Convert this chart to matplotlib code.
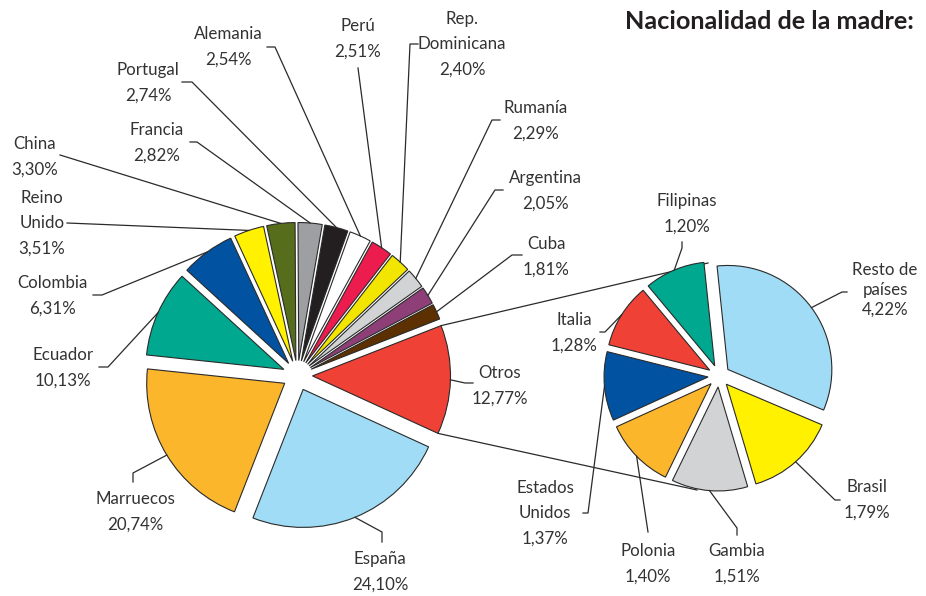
"""
Pie-of-pie: nacionalidad de la madre.
Main pie with 'Otros' broken down into a second, smaller pie.
"""
import numpy as np
import matplotlib
matplotlib.use("Agg")
import matplotlib.pyplot as plt

W, H = 926, 596

# --- data -----------------------------------------------------------------
left_names = ["Otros", "Cuba", "Argentina", "Rumanía", "Rep.\nDominicana",
              "Perú", "Alemania", "Portugal", "Francia", "China",
              "Reino\nUnido", "Colombia", "Ecuador", "Marruecos", "España"]
left_vals = [12.77, 1.81, 2.05, 2.29, 2.40, 2.51, 2.54, 2.74, 2.82, 3.30,
             3.51, 6.31, 10.13, 20.74, 24.10]
left_colors = ["#ef4136", "#5c3000", "#8e3f78", "#d1d3d4", "#f2e600",
               "#ed1c4f", "#ffffff", "#231f20", "#9d9fa2", "#566e1b",
               "#fff100", "#0152a1", "#00a88f", "#fbb62b", "#a0dcf6"]

right_names = ["Resto de\npaíses", "Filipinas", "Italia", "Estados\nUnidos",
               "Polonia", "Gambia", "Brasil"]
right_vals = [4.22, 1.20, 1.28, 1.37, 1.40, 1.51, 1.79]
right_colors = ["#a0dcf6", "#00a88f", "#ef4136", "#0152a1", "#fbb62b",
                "#d1d3d4", "#fff100"]

# --- layout (pixel coords, y downward) ------------------------------------
# text centre, then leader points from the label towards the wedge
left_text = [(500, 386), (546, 257), (545, 191), (536, 121), (462, 44),
             (358, 39), (228, 47), (148, 83), (157, 143), (35, 157),
             (42, 223), (52, 296), (63, 368), (135, 512), (380, 572)]
left_knees = [[(473, 383), (465, 383)], [(522, 255), (512, 255)],
              [(503, 190), (495, 190)], [(500, 120), (492, 120)],
              [(418, 44), (410, 44)], [(358, 68)],
              [(267, 47), (275, 47)], [(182, 82), (192, 82)],
              [(190, 142), (197, 142)], [(60, 155)], [(67, 223)],
              [(93, 295), (102, 295)], [(99, 367), (108, 367)],
              [(133, 482), (133, 473)], [(382, 542), (382, 532)]]
right_text = [(885, 290), (687, 214), (574, 333), (545, 513), (648, 564),
              (737, 564), (867, 500)]
right_knees = [[(847, 292), (842, 292)], [(682, 242), (682, 248)],
               [(600, 332), (605, 332)], [(583, 513), (588, 513)],
               [(648, 532)], [(737, 535), (737, 528)],
               [(840, 500), (835, 500)]]

TXT = "#333333"
FONT = "Lato"


def py(y):
    return H - y


def pct(v):
    return f"{v:.2f}%".replace(".", ",")


def draw_pie(ax, vals, colors, start, center, radius, expl):
    wedges, _ = ax.pie(vals, colors=colors, startangle=start,
                       counterclock=True, radius=radius,
                       center=(center[0], py(center[1])),
                       explode=[expl] * len(vals), frame=True,
                       wedgeprops=dict(edgecolor="#2a2a2a", linewidth=0.8))
    return wedges


def arc_point(w, frac=1.0):
    t = np.deg2rad(0.5 * (w.theta1 + w.theta2))
    cx, cy = w.center
    return cx + w.r * frac * np.cos(t), cy + w.r * frac * np.sin(t)


def labels(ax, wedges, names, vals, text_pos, knees, spacing=None):
    for i, w in enumerate(wedges):
        tx, ty = text_pos[i]
        ls = 1.72
        if spacing and i in spacing:
            ls = spacing[i]
        ax.text(tx, py(ty), f"{names[i]}\n{pct(vals[i])}", ha="center",
                va="center", fontsize=12.2, family=FONT, color=TXT,
                linespacing=ls)
        pts = [(x, py(y)) for x, y in knees[i]] + [arc_point(w, 1.0)]
        xs, ys = zip(*pts)
        ax.plot(xs, ys, color="#2a2a2a", lw=0.9, zorder=3)


fig = plt.figure(figsize=(W / 100, H / 100), dpi=100)
ax = fig.add_axes([0, 0, 1, 1])

lw = draw_pie(ax, left_vals, left_colors, -24.6, (297.5, 375.5), 138, 15)
rw = draw_pie(ax, right_vals, right_colors, -23, (719, 376), 104, 11)
for w in list(lw) + list(rw):
    w.set_zorder(2)

# connector lines from the 'Otros' wedge to the second pie
ow = lw[0]
cx, cy = ow.center
for ang, end in ((ow.theta2, (708, 263)), (ow.theta1, (697, 490))):
    t = np.deg2rad(ang)
    ax.plot([cx + ow.r * np.cos(t), end[0]],
            [cy + ow.r * np.sin(t), py(end[1])],
            color="#2a2a2a", lw=0.9, zorder=1)

labels(ax, lw, left_names, left_vals, left_text, left_knees)
labels(ax, rw, right_names, right_vals, right_text, right_knees,
       spacing={0: 1.3})

ax.text(625, py(29), "Nacionalidad de la madre:", fontsize=18.2,
        fontweight="bold", family=FONT, color="#231f20", ha="left",
        va="baseline")

ax.set_xlim(0, W)
ax.set_ylim(0, H)
ax.axis("off")

fig.savefig("out.png", dpi=100)
